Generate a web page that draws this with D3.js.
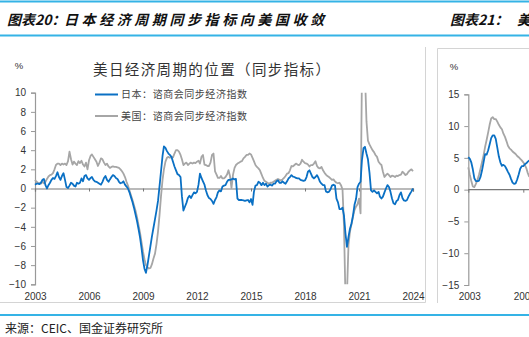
<!DOCTYPE html>
<html>
<head>
<meta charset="utf-8">
<script src="https://cdn.jsdelivr.net/npm/d3@7"></script>
<style>
  html, body { margin: 0; padding: 0; background: #fff; }
  svg { display: block; }
  text { font-family: "Liberation Sans", Arial, sans-serif; }
  .cjk { font-family: "Noto Sans CJK SC", sans-serif; }
</style>
</head>
<body>
<svg id="page" width="529" height="337"></svg>
<script>
// ---- Figure 20: coincident indices, monthly from 2003-01 ----
const startMonth = "2003-01";
const jpCoincident = [
  0.4,0.5,0.5,0.45,0.6,0.9,1.0,0.35,0.0,0.35,0.6,0.9,
  1.1,1.0,1.3,1.7,1.2,0.9,1.3,1.6,0.9,0.15,0.05,0.3,
  0.6,0.5,0.3,0.2,0.6,0.5,0.6,1.05,0.75,1.3,1.4,1.05,
  0.9,1.1,1.2,0.9,0.75,0.7,0.6,0.5,0.4,0.7,1.1,1.3,
  0.9,0.7,0.95,1.2,1.4,1.3,1.1,1.0,0.7,0.55,0.6,0.75,
  0.4,0.2,0.0,-0.4,-0.9,-1.4,-2.0,-2.7,-3.4,-4.2,-5.1,-6.2,
  -7.5,-8.4,-8.8,-8.0,-7.0,-6.0,-5.0,-4.1,-3.2,-2.3,-1.3,0.2,
  1.8,3.4,4.4,4.25,3.9,3.65,3.5,3.3,2.8,2.3,1.9,1.5,
  1.4,1.2,-0.8,-2.3,-1.9,-1.5,-1.0,-0.75,-1.0,-0.7,-0.4,-0.5,
  -0.35,0.4,1.55,1.1,0.75,0.4,-0.2,-0.7,-1.0,-1.1,-1.3,-1.6,
  -1.2,-0.9,-0.4,-0.2,-0.3,0.2,0.3,0.35,0.7,0.9,0.9,0.95,
  1.05,0.95,1.0,-1.05,-1.2,-1.2,-1.2,-1.25,-1.3,-1.25,-1.2,-1.45,
  -1.1,-1.7,-0.35,0.3,0.35,0.7,0.6,0.35,0.6,0.35,0.5,0.2,
  0.35,0.4,0.3,0.5,0.5,0.75,0.85,0.6,0.6,0.75,0.6,0.5,
  0.75,1.05,1.2,1.4,1.25,1.2,1.1,1.05,1.05,0.9,0.85,0.8,
  0.85,1.2,1.75,1.9,1.55,1.2,1.05,1.2,1.4,1.1,0.7,0.5,
  0.35,0.35,-0.3,-0.4,-0.35,-0.1,0.3,0.4,0.3,-1.05,-1.45,-2.15,
  -2.15,-2.0,-2.8,-4.7,-6.1,-5.05,-4.2,-3.65,-2.8,-1.7,-1.1,0.15,
  0.5,0.7,2.95,4.2,4.35,3.65,3.05,1.65,-0.2,-0.35,-0.2,-0.35,
  -0.5,-0.35,-0.85,-1.05,-0.85,-0.4,0.0,0.35,0.15,-0.35,-1.05,-1.55,
  -1.65,-1.3,-1.2,-0.7,-0.4,-1.0,-1.25,-1.3,-1.2,-0.85,-0.55,-0.3,
  0.0
];
const usCoincident = [
  0.9,0.7,0.6,0.55,0.5,0.7,0.55,0.7,1.0,1.25,1.4,1.45,
  1.6,2.0,2.45,2.6,2.6,2.45,2.6,2.5,2.6,2.45,2.85,3.85,
  3.05,2.5,2.8,2.6,2.45,2.85,2.65,2.9,2.5,2.3,2.7,2.0,
  2.95,3.4,3.55,3.3,3.05,2.8,2.35,2.7,3.15,3.05,2.7,2.45,
  2.6,2.3,2.15,2.25,2.3,2.25,2.25,2.2,2.15,2.0,1.8,1.55,
  1.2,0.7,0.3,-0.2,-0.7,-1.2,-1.75,-2.3,-3.0,-3.8,-4.6,-5.6,
  -6.6,-7.4,-8.0,-8.2,-8.35,-8.3,-7.9,-7.3,-6.8,-5.8,-4.5,-2.8,
  -0.8,0.9,2.0,2.8,3.2,3.3,3.2,3.3,3.25,3.65,4.0,4.0,
  3.85,3.5,3.05,2.45,2.6,2.7,2.45,2.6,2.7,2.6,2.7,2.65,
  2.8,2.9,2.6,3.3,3.5,2.5,2.45,2.35,2.35,2.7,3.5,3.65,
  1.8,1.45,1.1,1.1,1.3,1.05,1.05,1.2,1.45,1.9,1.3,0.05,
  1.45,2.15,2.45,2.6,2.7,2.8,2.85,3.15,3.3,3.5,3.5,3.65,
  3.55,3.2,2.85,2.45,2.25,2.1,1.9,1.5,1.1,0.8,0.7,0.6,
  0.5,0.6,0.6,0.7,0.8,0.9,1.0,0.9,0.85,0.95,1.1,1.3,
  1.55,1.6,1.9,2.35,2.3,2.45,2.6,2.5,2.45,2.6,3.0,2.8,
  2.65,2.6,2.5,2.3,2.45,2.45,2.6,2.85,2.35,2.15,2.1,2.25,
  1.9,1.65,1.45,1.3,1.2,1.05,0.9,0.95,0.75,0.6,0.55,0.6,
  0.35,-0.1,-3.8,-11.5,-11.0,-5.9,-4.5,-3.75,-2.95,-2.25,-1.9,-1.65,
  -1.05,-2.6,12.0,12.5,12.0,7.0,5.0,4.6,4.3,4.0,3.8,3.5,
  3.3,2.8,2.6,2.45,1.75,1.2,1.4,1.55,1.4,1.2,1.35,1.3,
  1.2,1.35,1.3,1.4,1.45,1.75,1.6,1.4,1.5,1.75,1.9,2.0,
  1.8
];
const yTicks20 = [10, 8, 6, 4, 2, 0, -2, -4, -6, -8, -10];
const xTickYears20 = [2003, 2006, 2009, 2012, 2015, 2018, 2021, 2024];
const legendLabels = ["日本：谘商会同步经济指数", "美国：谘商会同步经济指数"];

// ---- Figure 21 (right panel, partly visible) ----
const jpPanel21 = [5.1,4.85,4.3,3.2,1.8,1.35,1.35,1.4,2.0,3.0,4.3,5.6,5.5,6.2,7.1,8.1,8.55,8.55,8.0,6.6,
  5.2,4.3,3.75,3.9,3.7,3.25,2.8,2.35,1.7,1.1,0.9,1.0,1.6,2.4,3.3,3.7,3.7,4.0,4.15,4.4,4.6];
const usPanel21 = [3.5,2.3,1.4,0.5,0.4,0.9,1.5,2.3,3.3,4.3,5.4,6.7,7.8,9.0,10.2,11.2,11.4,11.1,11.1,10.7,
  10.2,9.8,9.5,8.8,8.3,7.6,6.9,6.5,6.3,6.0,5.8,5.6,5.3,5.1,4.85,4.6,4.3,3.9,3.4,2.6,2.0];
const yTicks21 = [15, 10, 5, 0, -5, -10, -15];
const xTickYears21 = [2003, 2006];

const BLUE = "#0a70c4", GRAY = "#a6a6a6", CYAN = "#35b3e6";
const svg = d3.select("#page");
const parseMonth = d3.timeParse("%Y-%m");
const monthSeries = (vals) => vals.map((v, i) => ({ date: d3.timeMonth.offset(parseMonth(startMonth), i), value: v }));
const fmt = (v) => (v < 0 ? "\u2212" + Math.abs(v) : String(v));

// page rules
svg.append("line").attr("x1", 0).attr("x2", 529).attr("y1", 1.5).attr("y2", 1.5).attr("stroke", CYAN).attr("stroke-width", 2);
svg.append("line").attr("x1", 0).attr("x2", 529).attr("y1", 35.5).attr("y2", 35.5).attr("stroke", CYAN).attr("stroke-width", 2);
svg.append("line").attr("x1", 0).attr("x2", 529).attr("y1", 315).attr("y2", 315).attr("stroke", CYAN).attr("stroke-width", 2);

// headings
const head = svg.append("g").attr("class", "cjk").attr("font-weight", "bold").attr("font-style", "italic").attr("fill", "#111").attr("font-size", 14);
head.append("text").attr("class", "cjk").attr("x", 7).attr("y", 25).text("图表20：");
head.append("text").attr("class", "cjk").attr("x", 64).attr("y", 25).attr("textLength", 260).attr("lengthAdjust", "spacing").text("日本经济周期同步指标向美国收敛");
head.append("text").attr("class", "cjk").attr("x", 450).attr("y", 25).text("图表21：");
head.append("text").attr("class", "cjk").attr("x", 517).attr("y", 25).text("美");

// source note
svg.append("text").attr("class", "cjk").attr("x", 5).attr("y", 333).attr("font-size", 12).attr("fill", "#222").text("来源：CEIC、国金证券研究所");

// panel frames
svg.append("path").attr("d", "M0,302.5H425.5V47").attr("fill", "none").attr("stroke", "#d4d4d4").attr("stroke-width", 1);
svg.append("path").attr("d", "M437.5,303V48.5H529").attr("fill", "none").attr("stroke", "#d4d4d4").attr("stroke-width", 1);

// ---------- Figure 20 ----------
const x20 = d3.scaleTime().domain([new Date(2003, 0, 1), new Date(2024, 0, 1)]).range([35, 413]);
const y20 = d3.scaleLinear().domain([-10, 10]).range([284.3, 92.7]);

svg.append("text").attr("class", "cjk").attr("x", 93).attr("y", 75).attr("font-size", 14.5).attr("fill", "#333")
  .attr("textLength", 237).attr("lengthAdjust", "spacing").text("美日经济周期的位置（同步指标）");
svg.append("text").attr("x", 19).attr("y", 69).attr("font-size", 9.5).attr("text-anchor", "middle").attr("fill", "#333").text("%");

const yAxis20 = svg.append("g").attr("transform", "translate(35,0)")
  .call(d3.axisLeft(y20).tickValues(yTicks20).tickSize(4).tickPadding(5).tickFormat(fmt));
yAxis20.select(".domain").attr("stroke", "#999").attr("stroke-width", 1.2);
yAxis20.selectAll(".tick line").attr("stroke", "#999");
yAxis20.selectAll(".tick text").attr("font-size", 10).attr("fill", "#333").attr("font-family", "Liberation Sans, Arial, sans-serif");

const xAxis20 = svg.append("g").attr("transform", `translate(0,${y20(0)})`)
  .call(d3.axisBottom(x20).tickValues(xTickYears20.map(y => new Date(y, 0, 1))).tickSize(3).tickFormat(d3.timeFormat("%Y")));
xAxis20.select(".domain").attr("stroke", "#777").attr("stroke-width", 1.2);
xAxis20.selectAll(".tick line").attr("stroke", "#777");
xAxis20.selectAll(".tick text").attr("y", 0).attr("dy", 0)
  .attr("transform", `translate(0,${299.5 - y20(0)})`)
  .attr("font-size", 10).attr("fill", "#333").attr("font-family", "Liberation Sans, Arial, sans-serif");

svg.append("clipPath").attr("id", "clip20").append("rect").attr("x", 30).attr("y", y20(10)).attr("width", 390).attr("height", y20(-10) - y20(10));
const line20 = d3.line().x(d => x20(d.date)).y(d => y20(d.value));
const plot20 = svg.append("g").attr("clip-path", "url(#clip20)");
plot20.append("path").datum(monthSeries(usCoincident)).attr("d", line20)
  .attr("fill", "none").attr("stroke", GRAY).attr("stroke-width", 1.8).attr("stroke-linejoin", "round");
plot20.append("path").datum(monthSeries(jpCoincident)).attr("d", line20)
  .attr("fill", "none").attr("stroke", BLUE).attr("stroke-width", 1.8).attr("stroke-linejoin", "round");

// legend
const legend = svg.append("g");
[BLUE, GRAY].forEach((c, i) => {
  const ly = 94.5 + i * 21.5;
  legend.append("line").attr("x1", 95).attr("x2", 118).attr("y1", ly).attr("y2", ly).attr("stroke", c).attr("stroke-width", 2);
  legend.append("text").attr("class", "cjk").attr("x", 121).attr("y", ly + 3.5).attr("font-size", 10).attr("fill", "#444")
    .attr("textLength", 126).attr("lengthAdjust", "spacing").text(legendLabels[i]);
});

// ---------- Figure 21 (clipped at the page edge) ----------
const x21 = d3.scaleTime().domain([new Date(2003, 0, 1), new Date(2006, 0, 1)]).range([468.3, 523.3]);
const y21 = d3.scaleLinear().domain([-15, 15]).range([285, 94.3]);

svg.append("text").attr("x", 454).attr("y", 70).attr("font-size", 9.5).attr("text-anchor", "middle").attr("fill", "#333").text("%");

const yAxis21 = svg.append("g").attr("transform", "translate(468.3,0)")
  .call(d3.axisLeft(y21).tickValues(yTicks21).tickSize(4).tickPadding(5).tickFormat(fmt));
yAxis21.select(".domain").attr("stroke", "#999").attr("stroke-width", 1.2);
yAxis21.selectAll(".tick line").attr("stroke", "#999");
yAxis21.selectAll(".tick text").attr("font-size", 10).attr("fill", "#333").attr("font-family", "Liberation Sans, Arial, sans-serif");

const xAxis21 = svg.append("g").attr("transform", `translate(0,${y21(0)})`)
  .call(d3.axisBottom(x21).tickValues(xTickYears21.map(y => new Date(y, 0, 1))).tickSize(3).tickFormat(d3.timeFormat("%Y")));
xAxis21.select(".domain").attr("d", `M468.3,0H529`).attr("stroke", "#777").attr("stroke-width", 1.2);
xAxis21.selectAll(".tick line").attr("stroke", "#777");
xAxis21.selectAll(".tick text").attr("y", 0).attr("dy", 0)
  .attr("transform", `translate(1,${299.5 - y21(0)})`)
  .attr("font-size", 10).attr("fill", "#333").attr("font-family", "Liberation Sans, Arial, sans-serif");

svg.append("clipPath").attr("id", "clip21").append("rect").attr("x", 466).attr("y", y21(15)).attr("width", 70).attr("height", y21(-15) - y21(15));
const line21 = d3.line().x(d => x21(d.date)).y(d => y21(d.value));
const plot21 = svg.append("g").attr("clip-path", "url(#clip21)");
plot21.append("path").datum(monthSeries(usPanel21)).attr("d", line21)
  .attr("fill", "none").attr("stroke", GRAY).attr("stroke-width", 1.8).attr("stroke-linejoin", "round");
plot21.append("path").datum(monthSeries(jpPanel21)).attr("d", line21)
  .attr("fill", "none").attr("stroke", BLUE).attr("stroke-width", 1.8).attr("stroke-linejoin", "round");
</script>
</body>
</html>
